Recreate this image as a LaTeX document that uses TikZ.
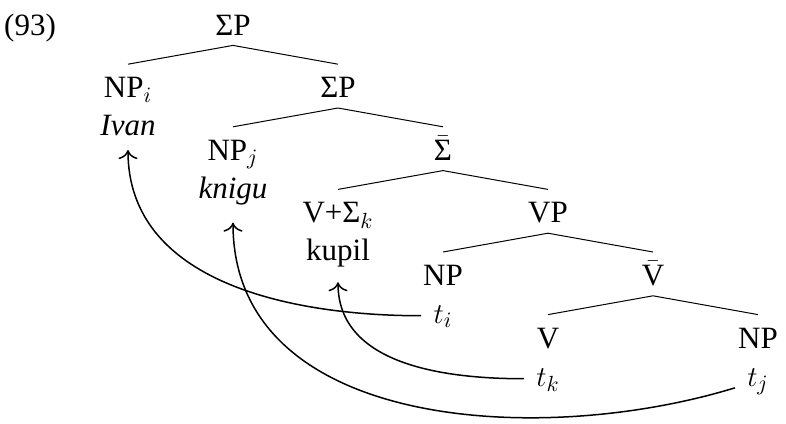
\documentclass[tikz,border=0pt]{standalone}
\usepackage{fontspec}
\setmainfont{Liberation Serif}
\usetikzlibrary{positioning, arrows.meta}

\begin{document}
\begin{tikzpicture}[
    x=0.5pt, y=-0.5pt,
    node distance=31.3pt and 52.5pt, on grid,
    cat/.style={inner sep=2pt, text height=14.5pt, text depth=3pt, font=\fontsize{15.5}{18}\selectfont},
    trace/.style={cat, inner xsep=6pt},
    branch/.style={line width=0.5pt},
    move/.style={-{To[scale=1.4]}, line width=0.75pt}
]
\useasboundingbox (0,0) rectangle (786,423);

% Nodes
\node[cat] (exnum) at (30,23.5) {(93)};
\node[cat] (root) at (233,23.5) {ΣP};

\node[cat, below left=of root] (npi) {NP$_i$};
\node[cat, below=19pt of npi] (ivan) {\textit{Ivan}};
\node[cat, below right=of root] (sp) {ΣP};

\node[cat, below left=of sp] (npj) {NP$_j$};
\node[cat, below=19pt of npj] (knigu) {\textit{knigu}};
\node[cat, below right=of sp] (sbar) {$\bar{\hbox{Σ}}$};

\node[cat, below left=of sbar] (vsig) {V+Σ$_k$};
\node[cat, below=19pt of vsig] (kupil) {kupil};
\node[cat, below right=of sbar] (vp) {VP};

\node[cat, below left=of vp] (np) {NP};
\node[trace, below=19pt of np] (ti) {$t_i$};
\node[cat, below right=of vp] (vbar) {$\bar{\hbox{V}}$};

\node[cat, below left=of vbar] (v) {V};
\node[trace, below=19pt of v] (tk) {$t_k$};
\node[cat, below right=of vbar] (npobj) {NP};
\node[trace, below=19pt of npobj] (tj) {$t_j$};

% Branches
\draw[branch] (root.south) -- (npi.north);
\draw[branch] (root.south) -- (sp.north);
\draw[branch] (sp.south) -- (npj.north);
\draw[branch] (sp.south) -- (sbar.north);
\draw[branch] (sbar.south) -- (vsig.north);
\draw[branch] (sbar.south) -- (vp.north);
\draw[branch] (vp.south) -- (np.north);
\draw[branch] (vp.south) -- (vbar.north);
\draw[branch] (vbar.south) -- (v.north);
\draw[branch] (vbar.south) -- (npobj.north);

% Movement
\draw[move] (ti.190) to[out=180, in=-90] ([yshift=-2pt]ivan.south);
\draw[move] (tk.190) to[out=180, in=-90] ([yshift=-5.5pt]kupil.south);
\draw[move] (tj.210) to[out=197, in=-90] ([yshift=-7pt]knigu.south);

\end{tikzpicture}
\end{document}
